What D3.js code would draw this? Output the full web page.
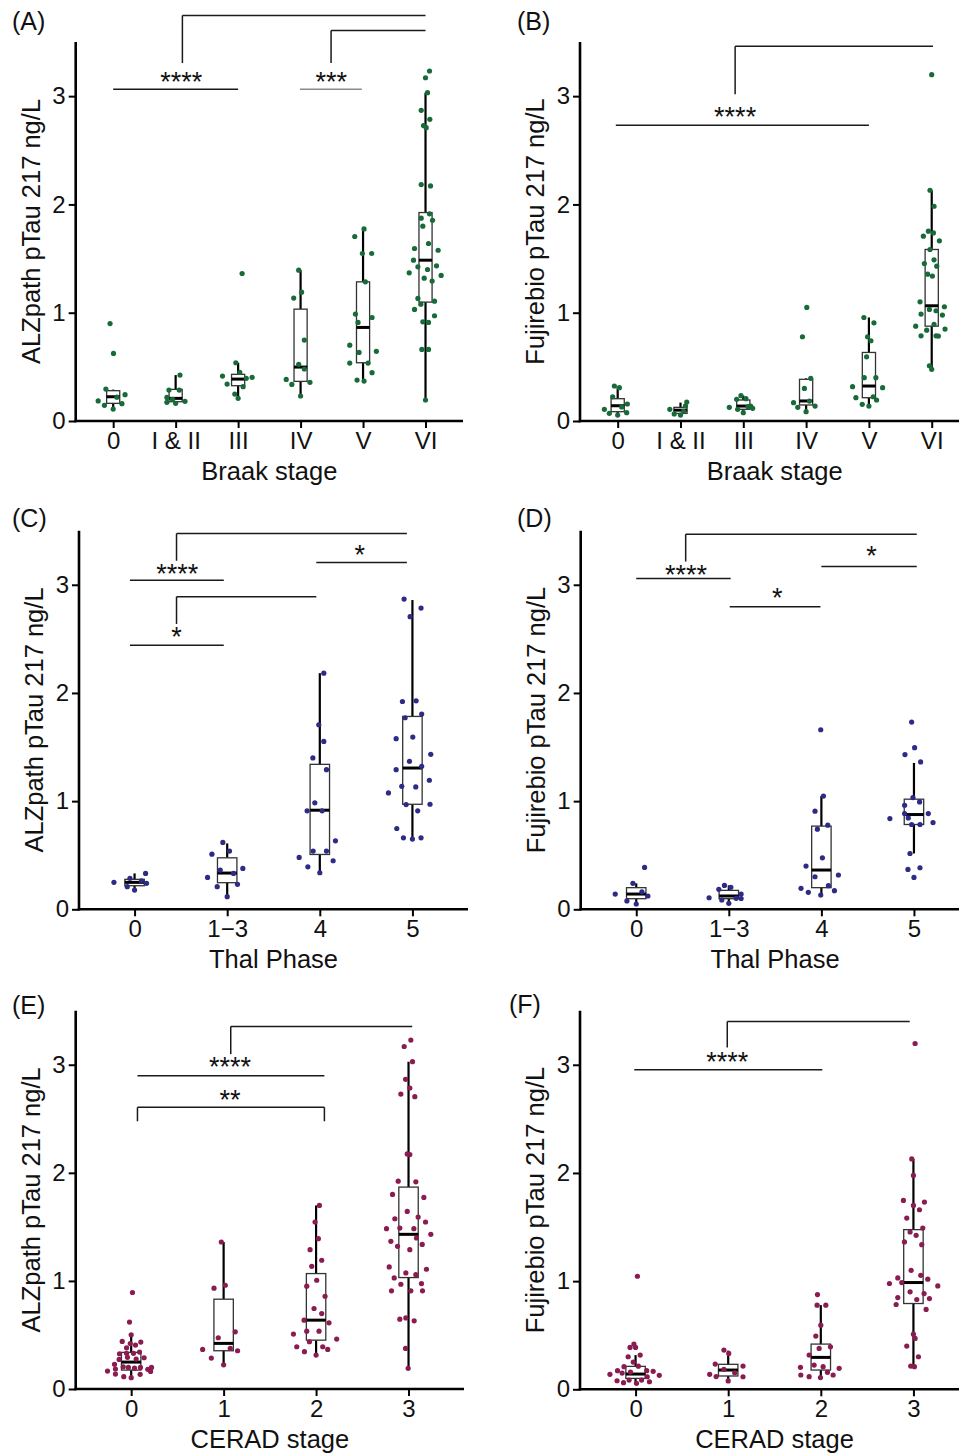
<!doctype html>
<html>
<head>
  <meta charset="utf-8">
  <script src="https://d3js.org/d3.v7.min.js"></script>
</head>
<style>
  body {
    margin: 0;
    background: white;
  }

  svg text {
    font-family: "Liberation Sans", Arial, sans-serif;
    fill: #111;
  }
</style>
<body>
<svg id="chart"></svg>

<script>
  // categories
  const braakStages = ["0", "I & II", "III", "IV", "V", "VI"];
  const thalPhases = ["0", "1\u22123", "4", "5"];
  const ceradStages = ["0", "1", "2", "3"];
  const yTicks = [0, 1, 2, 3];

  // points per category: [jitter (fraction of step), value]
  const alzBraakPoints = [
    [[-0.05, 0.90], [0.005, 0.624], [-0.117, 0.295], [-0.24, 0.185], [-0.14, 0.145], [0, 0.11], [0.14, 0.16], [0.19, 0.243], [0.06, 0.22]],
    [[0.069, 0.424], [-0.107, 0.286], [0.058, 0.286], [-0.14, 0.218], [-0.14, 0.172], [0, 0.163], [0.15, 0.182], [-0.05, 0.20]],
    [[0.064, 1.362], [-0.037, 0.538], [-0.25, 0.415], [-0.176, 0.341], [0.027, 0.449], [0.224, 0.403], [0.08, 0.317], [-0.053, 0.249], [0, 0.209], [0.13, 0.394]],
    [[-0.03, 1.393], [0.016, 1.19], [-0.11, 1.135], [0.06, 0.747], [-0.03, 0.523], [0.06, 0.48], [-0.23, 0.384], [-0.14, 0.338], [0.15, 0.357], [0, 0.231]],
    [[0.016, 1.774], [-0.133, 1.704], [-0.011, 1.547], [0.138, 1.547], [0.037, 1.285], [-0.122, 0.987], [-0.08, 0.91], [0.144, 0.956],
     [-0.213, 0.70], [-0.064, 0.633], [0.213, 0.643], [-0.213, 0.535], [0.08, 0.535], [-0.096, 0.378], [0.016, 0.369], [0.144, 0.446]],
    [[0.064, 3.232], [0, 3.17], [0.032, 3.032], [-0.069, 2.869], [0.069, 2.786], [-0.032, 2.728], [0.011, 2.709], [-0.069, 2.183], [0.08, 2.171],
     [-0.069, 1.873], [0.064, 1.913], [-0.043, 1.799], [0.112, 1.854], [0.048, 1.639], [-0.176, 1.593], [0.202, 1.577], [-0.192, 1.485],
     [-0.122, 1.424], [0.032, 1.399], [0.176, 1.433], [-0.261, 1.368], [-0.021, 1.319], [0.106, 1.292], [0.25, 1.344], [-0.122, 1.132],
     [-0.075, 1.079], [0.144, 1.107], [-0.176, 1.03], [-0.043, 0.916], [0.048, 0.91], [0.144, 0.972], [-0.059, 0.661], [0.048, 0.661], [0, 0.194]]
  ];
  const fujiBraakPoints = [
    [[-0.053, 0.323], [0.027, 0.308], [-0.08, 0.224], [-0.212, 0.108], [-0.133, 0.071], [0, 0.055], [0.154, 0.157], [0.143, 0.077], [0.064, 0.13]],
    [[-0.17, 0.108], [-0.10, 0.065], [0, 0.055], [0.10, 0.175], [0.08, 0.14], [0.05, 0.09]],
    [[-0.037, 0.234], [-0.106, 0.20], [0.042, 0.206], [-0.223, 0.126], [-0.09, 0.108], [0, 0.077], [0.117, 0.138], [0.149, 0.117], [0.074, 0.132]],
    [[0.011, 1.049], [-0.058, 0.778], [-0.027, 0.301], [0.074, 0.394], [-0.2, 0.169], [-0.133, 0.126], [0, 0.086], [0.053, 0.184], [0.143, 0.138]],
    [[-0.08, 0.956], [0.08, 0.907], [-0.021, 0.778], [0.032, 0.741], [-0.037, 0.593], [-0.074, 0.40], [0.111, 0.40], [-0.26, 0.317],
     [0.218, 0.308], [-0.207, 0.215], [0.122, 0.194], [-0.106, 0.154], [0, 0.138], [0.069, 0.224]],
    [[0, 3.198], [-0.027, 2.131], [0.037, 1.983], [-0.053, 1.753], [0.027, 1.737], [-0.133, 1.707], [0.122, 1.664], [-0.027, 1.584],
     [0.037, 1.488], [-0.117, 1.454], [0.08, 1.43], [-0.064, 1.356], [0.011, 1.338], [-0.186, 1.101], [-0.037, 1.03], [0.069, 1.018],
     [0.202, 1.055], [-0.17, 0.987], [0.17, 0.978], [-0.255, 0.876], [0.037, 0.892], [-0.08, 0.839], [0.212, 0.849], [-0.17, 0.787],
     [0.069, 0.787], [0.106, 0.784], [-0.037, 0.51], [0, 0.477]]
  ];
  const alzThalPoints = [
    [[-0.223, 0.249], [-0.05, 0.286], [-0.079, 0.209], [0, 0.178], [0.075, 0.264], [0.119, 0.332], [0.129, 0.24]],
    [[-0.047, 0.618], [0.025, 0.538], [-0.165, 0.51], [-0.075, 0.363], [0.068, 0.332], [0.169, 0.378], [-0.212, 0.295], [-0.108, 0.209], [0.111, 0.231], [0, 0.117]],
    [[0.043, 2.183], [-0.011, 1.706], [0.043, 1.552], [-0.075, 1.399], [0.072, 1.291], [-0.054, 0.984], [-0.137, 0.91], [0.025, 0.91],
     [0.169, 0.633], [-0.072, 0.538], [0.072, 0.538], [-0.223, 0.48], [0.144, 0.449], [-0.129, 0.393], [0, 0.338]],
    [[-0.09, 2.868], [0.093, 2.785], [-0.025, 2.705], [-0.108, 1.921], [0.04, 1.927], [0.10, 1.805], [-0.079, 1.771], [0.004, 1.592],
     [-0.176, 1.577], [0.198, 1.433], [-0.032, 1.368], [-0.176, 1.291], [0.10, 1.322], [-0.115, 1.137], [0.036, 1.131], [0.183, 1.193],
     [-0.259, 1.076], [-0.068, 0.968], [0.19, 0.971], [0.057, 0.91], [-0.169, 0.747], [-0.097, 0.661], [0, 0.649], [0.093, 0.661]]
  ];
  const fujiThalPoints = [
    [[0.09, 0.387], [-0.036, 0.24], [-0.227, 0.141], [-0.101, 0.077], [0, 0.049], [0.061, 0.162], [0.126, 0.123]],
    [[-0.213, 0.107], [-0.108, 0.185], [-0.047, 0.221], [0.022, 0.203], [-0.076, 0.086], [0, 0.055], [0.079, 0.101], [0.133, 0.141], [0.133, 0.10]],
    [[-0.007, 1.66], [0.022, 1.047], [-0.069, 0.907], [-0.043, 0.741], [0.069, 0.778], [0.011, 0.476], [-0.166, 0.40], [-0.069, 0.301],
     [0.184, 0.317], [0.076, 0.218], [-0.22, 0.194], [-0.141, 0.157], [-0.007, 0.132], [0.141, 0.172]],
    [[-0.025, 1.731], [0.007, 1.494], [-0.097, 1.43], [0.072, 1.362], [-0.011, 1.033], [0.061, 0.993], [-0.101, 0.962], [-0.101, 0.885],
     [-0.061, 0.845], [0.155, 0.885], [-0.26, 0.839], [0.206, 0.802], [-0.025, 0.784], [0.065, 0.784], [-0.043, 0.516], [-0.065, 0.369],
     [0.065, 0.384], [0, 0.295]]
  ];
  const alzCeradPoints = [
    [[0.014, 0.893], [-0.018, 0.619], [0, 0.502], [-0.097, 0.44], [0.104, 0.434], [0.047, 0.406], [-0.01, 0.42], [-0.05, 0.381],
     [-0.126, 0.326], [-0.05, 0.33], [0.025, 0.33], [0.09, 0.342], [0.14, 0.289], [-0.13, 0.274], [-0.04, 0.293], [0.054, 0.277],
     [-0.18, 0.228], [-0.256, 0.166], [-0.17, 0.185], [-0.086, 0.206], [-0.03, 0.20], [0.036, 0.193], [0.10, 0.20], [0.18, 0.182],
     [0.22, 0.20], [0.21, 0.163], [-0.17, 0.138], [-0.08, 0.114], [0, 0.105], [0.097, 0.136]],
    [[-0.025, 1.36], [-0.104, 0.933], [0.018, 0.96], [0.126, 0.529], [-0.058, 0.474], [0.072, 0.376], [0.151, 0.354], [-0.227, 0.366], [-0.133, 0.286], [0, 0.224]],
    [[0.036, 1.698], [-0.011, 1.545], [0.025, 1.391], [-0.065, 1.289], [0.061, 1.191], [-0.047, 1.135], [-0.101, 0.951], [0.007, 1.006],
     [0.097, 0.858], [-0.022, 0.745], [0.061, 0.698], [-0.13, 0.637], [0.14, 0.612], [-0.101, 0.535], [0.032, 0.535], [-0.245, 0.508],
     [0.223, 0.462], [-0.072, 0.437], [-0.209, 0.391], [0.072, 0.391], [-0.126, 0.345], [0.126, 0.366], [0, 0.314]],
    [[0.025, 3.228], [-0.047, 3.169], [0.043, 3.028], [-0.032, 2.865], [0.014, 2.785], [-0.083, 2.729], [0.068, 2.705], [-0.014, 2.175],
     [0.014, 2.169], [-0.112, 1.923], [0.079, 1.917], [-0.173, 1.80], [0.166, 1.772], [-0.014, 1.643], [0.104, 1.591], [-0.148, 1.575],
     [0.184, 1.545], [-0.238, 1.483], [-0.094, 1.489], [0.058, 1.483], [0.241, 1.431], [0.086, 1.397], [-0.191, 1.366], [0.014, 1.289],
     [-0.119, 1.32], [0.148, 1.338], [-0.209, 1.129], [0.194, 1.108], [-0.029, 1.074], [-0.155, 1.028], [0.079, 1.058], [-0.083, 0.969],
     [0.14, 0.975], [-0.184, 0.908], [0.025, 0.908], [0.151, 0.908], [-0.094, 0.646], [-0.029, 0.658], [0.061, 0.631], [-0.032, 0.375], [-0.004, 0.191]]
  ];
  const fujiCeradPoints = [
    [[0.02, 1.045], [-0.018, 0.418], [-0.06, 0.387], [0, 0.387], [0.05, 0.316], [-0.08, 0.301], [-0.025, 0.252], [-0.125, 0.209],
     [0.03, 0.214], [-0.277, 0.138], [-0.195, 0.172], [-0.145, 0.15], [-0.055, 0.16], [0.12, 0.172], [0.19, 0.166], [0.256, 0.129],
     [-0.2, 0.079], [-0.13, 0.061], [-0.07, 0.085], [0.01, 0.055], [0.065, 0.085], [0.126, 0.116], [0.15, 0.07]],
    [[-0.046, 0.363], [0.006, 0.332], [-0.14, 0.233], [0.16, 0.215], [-0.046, 0.184], [-0.20, 0.138], [-0.13, 0.118], [0.07, 0.153], [0.16, 0.116], [0, 0.077]],
    [[-0.036, 0.876], [-0.04, 0.778], [0.054, 0.778], [0, 0.593], [-0.054, 0.492], [-0.018, 0.378], [0.104, 0.393], [-0.126, 0.317],
     [0.025, 0.209], [-0.22, 0.203], [-0.072, 0.224], [0.198, 0.194], [-0.216, 0.132], [-0.126, 0.117], [0.072, 0.157], [0.133, 0.132], [-0.004, 0.108]],
    [[0.018, 3.197], [-0.018, 2.13], [0, 1.977], [-0.108, 1.746], [0, 1.70], [0.119, 1.731], [0.065, 1.66], [-0.072, 1.583],
     [0.101, 1.491], [-0.036, 1.454], [0.029, 1.423], [-0.097, 1.362], [0.09, 1.337], [-0.025, 1.10], [-0.169, 1.03], [0.079, 1.054],
     [0.155, 1.018], [-0.259, 0.978], [-0.126, 0.987], [0.263, 0.956], [-0.036, 0.901], [0.115, 0.885], [-0.169, 0.848], [0.173, 0.839],
     [0.036, 0.83], [-0.187, 0.784], [0.137, 0.738], [0, 0.51], [0.018, 0.47], [-0.072, 0.40], [0.054, 0.301], [-0.029, 0.215], [0.011, 0.209]]
  ];

  // box stats per category: [lower whisker, q1, median, q3, upper whisker]
  const alzBraakBoxes = [[0.117, 0.163, 0.224, 0.28, 0.29], [0.172, 0.178, 0.209, 0.292, 0.424], [0.206, 0.326, 0.387, 0.431, 0.538],
    [0.231, 0.366, 0.498, 1.033, 1.393], [0.369, 0.538, 0.864, 1.285, 1.774], [0.194, 1.098, 1.485, 1.925, 3.032]];
  const fujiBraakBoxes = [[0.055, 0.086, 0.141, 0.206, 0.317], [0.06, 0.07, 0.10, 0.126, 0.17], [0.077, 0.108, 0.138, 0.194, 0.234],
    [0.086, 0.148, 0.185, 0.385, 0.394], [0.138, 0.215, 0.323, 0.633, 0.956], [0.477, 0.876, 1.064, 1.584, 2.131]];
  const alzThalBoxes = [[0.178, 0.218, 0.249, 0.277, 0.332], [0.117, 0.246, 0.335, 0.476, 0.609], [0.338, 0.507, 0.916, 1.34, 2.183], [0.655, 0.971, 1.306, 1.783, 2.859]];
  const fujiThalBoxes = [[0.049, 0.098, 0.141, 0.20, 0.24], [0.055, 0.098, 0.123, 0.175, 0.221], [0.132, 0.20, 0.363, 0.769, 1.047], [0.516, 0.784, 0.876, 1.018, 1.353]];
  const alzCeradBoxes = [[0.105, 0.175, 0.249, 0.339, 0.502], [0.224, 0.354, 0.422, 0.831, 1.36], [0.314, 0.452, 0.637, 1.068, 1.698], [0.191, 1.031, 1.431, 1.868, 3.028]];
  const fujiCeradBoxes = [[0.05, 0.101, 0.141, 0.212, 0.316], [0.077, 0.123, 0.178, 0.231, 0.357], [0.108, 0.178, 0.295, 0.418, 0.778], [0.209, 0.793, 0.987, 1.476, 2.13]];

  // significance marks: lines [x1, y1, x2, y2] in category index / value units, labels [x, y, text]
  const alzBraakLines = [[0, 3.063, 2, 3.063], [1.108, 3.305, 1.108, 3.745], [1.108, 3.745, 5, 3.745], [3.488, 3.305, 3.488, 3.607], [3.488, 3.607, 5, 3.607]];
  const alzBraakGrayLines = [[2.99, 3.063, 3.98, 3.063]];
  const alzBraakLabels = [[1.09, 3.17, "****"], [3.49, 3.17, "***"]];
  const fujiBraakLines = [[-0.03, 2.731, 4, 2.731], [1.87, 3.017, 1.87, 3.46], [1.87, 3.46, 5.02, 3.46]];
  const fujiBraakLabels = [[1.87, 2.853, "****"]];
  const alzThalLines = [[0.453, 3.474, 2.94, 3.474], [0.453, 3.222, 0.453, 3.474], [-0.05, 3.043, 0.963, 3.043], [1.962, 3.206, 2.94, 3.206],
    [0.453, 2.89, 1.962, 2.89], [0.453, 2.638, 0.453, 2.89], [-0.05, 2.441, 0.963, 2.441]];
  const alzThalLabels = [[0.46, 3.145, "****"], [2.43, 3.314, "*"], [0.453, 2.561, "*"]];
  const fujiThalLines = [[0.534, 3.468, 3.03, 3.468], [0.534, 3.215, 0.534, 3.468], [0, 3.059, 1.02, 3.059], [2, 3.169, 3.03, 3.169], [1.01, 2.797, 1.99, 2.797]];
  const fujiThalLabels = [[0.537, 3.129, "****"], [2.542, 3.308, "*"], [1.522, 2.923, "*"]];
  const alzCeradLines = [[1.077, 3.354, 3.04, 3.354], [1.077, 3.098, 1.077, 3.354], [0.068, 2.898, 2.09, 2.898],
    [0.068, 2.606, 2.09, 2.606], [0.068, 2.477, 0.068, 2.606], [2.09, 2.477, 2.09, 2.606]];
  const alzCeradLabels = [[1.07, 3.022, "****"], [1.07, 2.72, "**"]];
  const fujiCeradLines = [[0.99, 3.40, 2.96, 3.40], [0.99, 3.16, 0.99, 3.40], [-0.014, 2.954, 2.016, 2.954]];
  const fujiCeradLabels = [[0.99, 3.068, "****"]];

  const green = "#186b38", navy = "#2e2b86", maroon = "#8a1c52";
  const yMax = 3.5;

  const panels = [
    { tag: "(A)", tagX: 12, tagY: 30, left: 75.7, right: 463, top: 42, bottom: 421, cats: braakStages, xTitle: "Braak stage",
      yTitle: "ALZpath pTau 217 ng/L", color: green, points: alzBraakPoints, boxes: alzBraakBoxes, lines: alzBraakLines, grayLines: alzBraakGrayLines, labels: alzBraakLabels },
    { tag: "(B)", tagX: 517, tagY: 30, left: 580, right: 969.4, top: 42, bottom: 421, cats: braakStages, xTitle: "Braak stage",
      yTitle: "Fujirebio pTau 217 ng/L", color: green, points: fujiBraakPoints, boxes: fujiBraakBoxes, lines: fujiBraakLines, grayLines: [], labels: fujiBraakLabels },
    { tag: "(C)", tagX: 12, tagY: 527, left: 79, right: 468, top: 530.7, bottom: 909.3, cats: thalPhases, xTitle: "Thal Phase",
      yTitle: "ALZpath pTau 217 ng/L", color: navy, points: alzThalPoints, boxes: alzThalBoxes, lines: alzThalLines, grayLines: [], labels: alzThalLabels },
    { tag: "(D)", tagX: 517, tagY: 527, left: 580.7, right: 969.5, top: 530.7, bottom: 909.3, cats: thalPhases, xTitle: "Thal Phase",
      yTitle: "Fujirebio pTau 217 ng/L", color: navy, points: fujiThalPoints, boxes: fujiThalBoxes, lines: fujiThalLines, grayLines: [], labels: fujiThalLabels },
    { tag: "(E)", tagX: 12, tagY: 1014, left: 75.7, right: 464, top: 1010.7, bottom: 1389, cats: ceradStages, xTitle: "CERAD stage",
      yTitle: "ALZpath pTau 217 ng/L", color: maroon, points: alzCeradPoints, boxes: alzCeradBoxes, lines: alzCeradLines, grayLines: [], labels: alzCeradLabels },
    { tag: "(F)", tagX: 509, tagY: 1013, left: 580, right: 969, top: 1010.7, bottom: 1389.3, cats: ceradStages, xTitle: "CERAD stage",
      yTitle: "Fujirebio pTau 217 ng/L", color: maroon, points: fujiCeradPoints, boxes: fujiCeradBoxes, lines: fujiCeradLines, grayLines: [], labels: fujiCeradLabels }
  ];

  const svg = d3.select("#chart")
    .attr("width", 959)
    .attr("height", 1454);

  svg.append("rect").attr("width", 959).attr("height", 1454).attr("fill", "white");

  panels.forEach(drawPanel);

  function drawPanel(p) {
    const g = svg.append("g");
    const x = d3.scalePoint().domain(p.cats).range([p.left, p.right]).padding(0.6);
    const y = d3.scaleLinear().domain([0, yMax]).range([p.bottom, p.top]);
    const step = x.step();
    // fractional category positions for brackets
    const xi = d3.scaleLinear().domain([0, p.cats.length - 1]).range([x(p.cats[0]), x(p.cats[p.cats.length - 1])]);
    const boxW = step * 0.21;

    p.boxes.forEach(function (b, i) {
      const cx = x(p.cats[i]);
      g.append("line").attr("x1", cx).attr("x2", cx).attr("y1", y(b[0])).attr("y2", y(b[1]))
        .attr("stroke", "black").attr("stroke-width", 2.2);
      g.append("line").attr("x1", cx).attr("x2", cx).attr("y1", y(b[3])).attr("y2", y(b[4]))
        .attr("stroke", "black").attr("stroke-width", 2.2);
      g.append("rect")
        .attr("x", cx - boxW / 2).attr("y", y(b[3]))
        .attr("width", boxW).attr("height", y(b[1]) - y(b[3]))
        .attr("fill", "white").attr("stroke", "#333").attr("stroke-width", 1.3);
      g.append("line").attr("x1", cx - boxW / 2).attr("x2", cx + boxW / 2).attr("y1", y(b[2])).attr("y2", y(b[2]))
        .attr("stroke", "black").attr("stroke-width", 3);
    });

    // jittered points
    p.points.forEach(function (pts, i) {
      const cx = x(p.cats[i]);
      g.selectAll(null).data(pts).enter().append("circle")
        .attr("cx", d => cx + d[0] * step)
        .attr("cy", d => y(d[1]))
        .attr("r", 2.6)
        .attr("fill", p.color);
    });

    // axes
    const yAxis = g.append("g")
      .attr("transform", `translate(${p.left}, 0)`)
      .call(d3.axisLeft(y).tickValues(yTicks).tickFormat(d3.format("d")).tickSize(7).tickSizeOuter(0).tickPadding(3));
    const xAxis = g.append("g")
      .attr("transform", `translate(0, ${p.bottom})`)
      .call(d3.axisBottom(x).tickSize(7).tickSizeOuter(0).tickPadding(3.5));
    [yAxis, xAxis].forEach(function (a) {
      a.select(".domain").attr("stroke", "black").attr("stroke-width", 2.6);
      a.selectAll(".tick line").attr("stroke", "black").attr("stroke-width", 2);
      a.selectAll(".tick text").attr("font-size", 24).attr("fill", "#111")
        .attr("font-family", "'Liberation Sans', Arial, sans-serif");
    });
    yAxis.select(".domain").attr("d", `M0,${p.bottom + 1.3}V${p.top}`);
    xAxis.select(".domain").attr("d", `M${p.left - 1.3},0H${p.right}`);

    // titles
    g.append("text")
      .attr("x", (p.left + p.right) / 2).attr("y", p.bottom + 59)
      .attr("text-anchor", "middle").attr("font-size", 25.5)
      .text(p.xTitle);
    g.append("text")
      .attr("transform", `translate(${p.left - 35.7}, ${(p.top + p.bottom) / 2}) rotate(-90)`)
      .attr("text-anchor", "middle").attr("font-size", 25.5)
      .text(p.yTitle);
    g.append("text")
      .attr("x", p.tagX).attr("y", p.tagY)
      .attr("font-size", 25)
      .text(p.tag);

    // significance brackets
    g.selectAll(null).data(p.lines).enter().append("line")
      .attr("x1", d => xi(d[0])).attr("y1", d => y(d[1]))
      .attr("x2", d => xi(d[2])).attr("y2", d => y(d[3]))
      .attr("stroke", "#1a1a1a").attr("stroke-width", 1.5);
    g.selectAll(null).data(p.grayLines).enter().append("line")
      .attr("x1", d => xi(d[0])).attr("y1", d => y(d[1]))
      .attr("x2", d => xi(d[2])).attr("y2", d => y(d[3]))
      .attr("stroke", "#8a8a8a").attr("stroke-width", 1.5);
    g.selectAll(null).data(p.labels).enter().append("text")
      .attr("x", d => xi(d[0])).attr("y", d => y(d[1]))
      .attr("dy", "0.5em")
      .attr("text-anchor", "middle").attr("font-size", 27).attr("fill", "#333")
      .text(d => d[2]);
  }
</script>
</body>
</html>
